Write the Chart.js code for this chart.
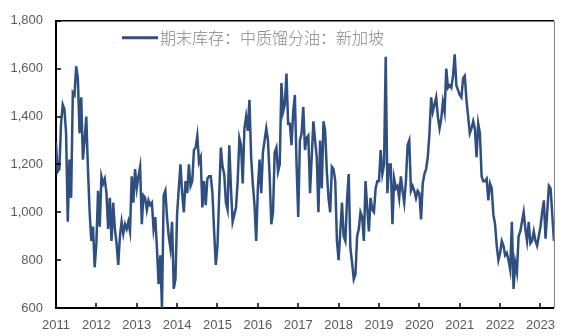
<!DOCTYPE html>
<html>
<head>
<meta charset="utf-8">
<script src="https://cdn.jsdelivr.net/npm/chart.js@4/dist/chart.umd.min.js"></script>
<style>
  html, body { margin: 0; padding: 0; background: #fff; }
  #wrap { width: 565px; height: 336px; position: relative; }
</style>
</head>
<body>
<div id="wrap"><canvas id="stockChart"></canvas></div>
<script>
// Singapore middle distillates stocks, half-monthly readings
const seriesName = "期末库存：中质馏分油：新加坡";
const startYear = 2011;
const pointsPerYear = 24;

const stock2011 = [1290, 1170, 1180, 1370, 1450, 1430, 1330, 960, 1220, 1060, 1500, 1490, 1610, 1560, 1330, 1480, 1220, 1300, 1400, 1180, 1000, 880, 940, 770];
const stock2012 = [870, 1090, 940, 1150, 1120, 1140, 1080, 930, 1060, 880, 1040, 930, 870, 780, 900, 960, 910, 950, 930, 960, 920, 1150, 1040, 1180];
const stock2013 = [1100, 1150, 1190, 950, 1070, 1060, 1010, 1050, 1030, 1040, 930, 980, 850, 700, 820, 600, 1070, 1090, 980, 900, 850, 960, 680, 720];
const stock2014 = [995, 1100, 1200, 1080, 1000, 1130, 1080, 1200, 1110, 1130, 1260, 1270, 1320, 1210, 1230, 1020, 1130, 1030, 1140, 1150, 1150, 1080, 920, 780];
const stock2015 = [860, 1070, 1270, 1190, 1160, 1040, 1010, 1280, 1100, 960, 990, 1020, 1130, 1310, 1280, 1120, 1350, 1400, 1340, 1470, 1230, 1120, 1030, 880];
const stock2016 = [1100, 1220, 1080, 1250, 1300, 1350, 1300, 1150, 950, 1000, 1250, 1270, 1170, 1200, 1540, 1420, 1450, 1580, 1370, 1370, 1280, 1420, 1490, 1200];
const stock2017 = [980, 1300, 1330, 1440, 1260, 1310, 1320, 1080, 1230, 1380, 1300, 1230, 1000, 1300, 1100, 1380, 1340, 1170, 1060, 1000, 1190, 1180, 1130, 880];
const stock2018 = [800, 920, 1040, 900, 880, 1050, 1160, 850, 790, 720, 740, 900, 930, 1000, 980, 880, 1130, 1020, 920, 1060, 1010, 1000, 1100, 1130];
const stock2019 = [1130, 1260, 1160, 1200, 1650, 1080, 1200, 1200, 950, 1140, 1100, 1110, 1060, 1150, 1090, 1040, 1130, 1280, 1300, 1090, 1110, 1090, 1060, 1090];
const stock2020 = [1080, 970, 1120, 1160, 1180, 1230, 1330, 1480, 1420, 1450, 1480, 1400, 1350, 1390, 1460, 1420, 1600, 1520, 1530, 1520, 1570, 1660, 1530, 1510];
const stock2021 = [1490, 1480, 1560, 1570, 1470, 1400, 1330, 1350, 1380, 1350, 1230, 1370, 1330, 1150, 1130, 1130, 1140, 1050, 1120, 1100, 990, 950, 860, 800];
const stock2022 = [830, 880, 860, 820, 830, 800, 760, 960, 680, 790, 750, 900, 920, 960, 1000, 930, 880, 960, 870, 880, 920, 880, 860, 900];
const stock2023 = [940, 1000, 1050, 890, 1000, 1110, 1100, 990, 880];

const yearTicks = [2011, 2012, 2013, 2014, 2015, 2016, 2017, 2018, 2019, 2020, 2021, 2022, 2023];
const stockTicks = [600, 800, 1000, 1200, 1400, 1600, 1800];

const stock = [].concat(stock2011, stock2012, stock2013, stock2014, stock2015, stock2016,
  stock2017, stock2018, stock2019, stock2020, stock2021, stock2022, stock2023);
const points = stock.map((v, i) => ({ x: startYear + i / pointsPerYear, y: v }));

const lineColor = "#2f4f80";
const labelColor = "#595959";

// box around the plot, inward tick marks and the legend inside the plot
const framePlugin = {
  id: "frame",
  afterDatasetsDraw(chart) {
    const { ctx, chartArea: a, scales } = chart;
    ctx.save();

    ctx.strokeStyle = "#000";
    ctx.lineWidth = 1.5;
    ctx.beginPath();
    ctx.moveTo(a.left, a.top);
    ctx.lineTo(a.right, a.top);
    ctx.stroke();
    ctx.strokeStyle = "#7f7f7f";
    ctx.lineWidth = 1;
    ctx.beginPath();
    ctx.moveTo(a.right + 0.5, a.top);
    ctx.lineTo(a.right + 0.5, a.bottom);
    ctx.stroke();

    ctx.strokeStyle = "#000";
    ctx.lineWidth = 1.5;
    ctx.beginPath();
    yearTicks.forEach((t) => {
      const px = Math.round(scales.x.getPixelForValue(t));
      ctx.moveTo(px, a.bottom);
      ctx.lineTo(px, a.bottom - 5);
    });
    stockTicks.forEach((v) => {
      const py = Math.round(scales.y.getPixelForValue(v));
      ctx.moveTo(a.left, py);
      ctx.lineTo(a.left + 5, py);
    });
    ctx.stroke();

    // legend
    const lx = a.left + 66;
    const ly = a.top + 17;
    ctx.strokeStyle = lineColor;
    ctx.lineWidth = 3;
    ctx.beginPath();
    ctx.moveTo(lx, ly);
    ctx.lineTo(lx + 36, ly);
    ctx.stroke();
    ctx.fillStyle = "#858585";
    ctx.font = '300 16px "Noto Sans CJK SC"';
    ctx.textBaseline = "middle";
    ctx.textAlign = "left";
    ctx.fillText(seriesName, lx + 38, ly);

    ctx.restore();
  },
};

new Chart(document.getElementById("stockChart"), {
  type: "line",
  data: {
    datasets: [
      {
        label: seriesName,
        data: points,
        borderColor: lineColor,
        backgroundColor: lineColor,
        borderWidth: 2.5,
        pointRadius: 0,
        tension: 0,
      },
    ],
  },
  options: {
    responsive: true,
    maintainAspectRatio: false,
    animation: false,
    layout: { padding: { top: 16, right: 2, left: 0, bottom: 0 } },
    scales: {
      x: {
        type: "linear",
        min: 2011,
        max: 2011 + (stock.length - 1) / pointsPerYear,
        afterBuildTicks: (s) => {
          s.ticks = yearTicks.map((v) => ({ value: v }));
        },
        afterFit: (s) => {
          s.height = 28;
        },
        grid: { display: false, drawTicks: false },
        border: { color: "#000", width: 2 },
        ticks: {
          color: labelColor,
          padding: 10,
          maxRotation: 0,
          autoSkip: false,
          font: { family: "Liberation Sans", size: 13 },
          callback: (v) => String(v),
        },
      },
      y: {
        min: 600,
        max: 1800,
        afterBuildTicks: (s) => {
          s.ticks = stockTicks.map((v) => ({ value: v }));
        },
        afterFit: (s) => {
          s.width = 56;
        },
        grid: { display: false, drawTicks: false },
        border: { color: "#000", width: 2 },
        ticks: {
          color: labelColor,
          padding: 13,
          font: { family: "Liberation Sans", size: 13 },
          callback: (v) => Number(v).toLocaleString("en-US"),
        },
      },
    },
    plugins: {
      legend: { display: false },
      tooltip: { enabled: false },
    },
  },
  plugins: [framePlugin],
});
</script>
</body>
</html>
